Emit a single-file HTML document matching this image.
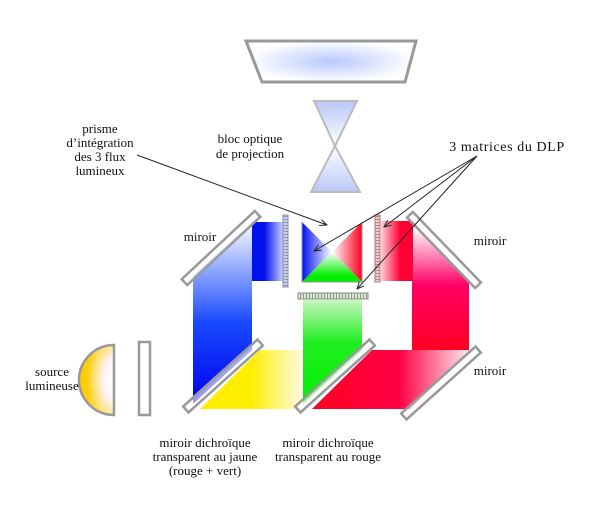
<!DOCTYPE html>
<html><head><meta charset="utf-8"><style>
html,body{margin:0;padding:0;background:#fff}
svg{display:block}
text{font-family:"Liberation Serif",serif;font-size:13px;fill:#111}
</style></head><body>
<svg width="600" height="514" viewBox="0 0 600 514" xmlns="http://www.w3.org/2000/svg">
<defs>
<radialGradient id="scr" cx="0.5" cy="0.5" r="0.5"><stop offset="0" stop-color="#b8c8ff"/><stop offset="1" stop-color="#fff"/></radialGradient>
<linearGradient id="hg1" x1="0" y1="0" x2="0" y2="1"><stop offset="0" stop-color="#b8c8f8"/><stop offset="1" stop-color="#fff"/></linearGradient>
<linearGradient id="hg2" x1="0" y1="1" x2="0" y2="0"><stop offset="0" stop-color="#b8c8f8"/><stop offset="1" stop-color="#fff"/></linearGradient>
<linearGradient id="blueV" x1="0" y1="0" x2="0" y2="1"><stop offset="0" stop-color="#fff"/><stop offset="0.55" stop-color="#1a4bff"/><stop offset="1" stop-color="#0000ee"/></linearGradient>
<linearGradient id="yel" x1="0" y1="0" x2="1" y2="0"><stop offset="0.5" stop-color="#ffee00"/><stop offset="1" stop-color="#fffbe0"/></linearGradient>
<linearGradient id="grn" x1="0" y1="0" x2="0" y2="1"><stop offset="0" stop-color="#c8f5c0"/><stop offset="0.4" stop-color="#22ee22"/><stop offset="1" stop-color="#00ee00"/></linearGradient>
<linearGradient id="redH" x1="0" y1="0" x2="1" y2="0"><stop offset="0" stop-color="#ff0022"/><stop offset="0.55" stop-color="#ff0044"/><stop offset="1" stop-color="#ffecef"/></linearGradient>
<linearGradient id="redV" x1="0" y1="0" x2="0" y2="1"><stop offset="0.05" stop-color="#fff"/><stop offset="0.5" stop-color="#ff0066"/><stop offset="1" stop-color="#ff0022"/></linearGradient>
<linearGradient id="blueT" x1="0" y1="0" x2="1" y2="0"><stop offset="0.4" stop-color="#0011ee"/><stop offset="1" stop-color="#c8d0ff"/></linearGradient>
<linearGradient id="redT" x1="1" y1="0" x2="0" y2="0"><stop offset="0.4" stop-color="#ff0033"/><stop offset="1" stop-color="#ffd0d8"/></linearGradient>
<linearGradient id="pb" x1="0" y1="0" x2="1" y2="0"><stop offset="0" stop-color="#0011ee"/><stop offset="1" stop-color="#fff"/></linearGradient>
<linearGradient id="pr" x1="1" y1="0" x2="0" y2="0"><stop offset="0" stop-color="#ff0022"/><stop offset="1" stop-color="#fff"/></linearGradient>
<linearGradient id="pg" x1="0" y1="1" x2="0" y2="0"><stop offset="0.2" stop-color="#00ee00"/><stop offset="1" stop-color="#fff"/></linearGradient>
<radialGradient id="src" cx="1" cy="0.5" r="1"><stop offset="0" stop-color="#fff"/><stop offset="0.3" stop-color="#fff4f8"/><stop offset="0.8" stop-color="#ffcc00"/></radialGradient>
<pattern id="mat" width="3" height="3" patternUnits="userSpaceOnUse"><rect width="3" height="3" fill="#c8d4e8"/><path d="M0 0.5H3" stroke="#7a88a0" stroke-width="0.8"/></pattern>
<pattern id="matr" width="3" height="3" patternUnits="userSpaceOnUse"><rect width="3" height="3" fill="#f5c8c8"/><path d="M0 0.5H3" stroke="#b07070" stroke-width="0.8"/></pattern>
<pattern id="matg" width="3" height="3" patternUnits="userSpaceOnUse"><rect width="3" height="3" fill="#d8e8d0"/><path d="M0.5 0V3" stroke="#7a8a70" stroke-width="0.8"/></pattern>
<marker id="ar" viewBox="0 0 10 10" refX="9" refY="5" markerWidth="8" markerHeight="8" orient="auto"><path d="M0 1L9 5L0 9" fill="none" stroke="#222" stroke-width="1.2"/></marker>
</defs>

<polygon points="246,41 416,41 405,82 262,82" fill="url(#scr)" stroke="#999" stroke-width="3"/>
<polygon points="314,101 357,101 335,146" fill="url(#hg1)" stroke="#bbb" stroke-width="2"/>
<polygon points="311,192 360,192 335,146" fill="url(#hg2)" stroke="#bbb" stroke-width="2"/>

<polygon points="193,276 252,221 252,350 193,404" fill="url(#blueV)"/>
<polygon points="200,409 260,350 302,350 302,409" fill="url(#yel)"/>
<polygon points="303,300 362,300 362,350 303,404" fill="url(#grn)"/>
<polygon points="312,409 372,350 470,350 410,409" fill="url(#redH)"/>
<polygon points="412,221 469,280 469,350 412,350" fill="url(#redV)"/>
<rect x="252" y="222" width="31" height="59" fill="url(#blueT)"/>
<rect x="381" y="221" width="32" height="60" fill="url(#redT)"/>

<polygon points="302,222 332,252 302,282" fill="url(#pb)"/>
<polygon points="362,222 332,252 362,282" fill="url(#pr)"/>
<polygon points="302,282 362,282 332,252" fill="url(#pg)"/>
<polyline points="302,222 302,282 362,282 362,222" fill="none" stroke="#999" stroke-width="1"/>

<rect x="283" y="215" width="5" height="72" fill="url(#mat)" stroke="#8890a0" stroke-width="1"/>
<rect x="375" y="215" width="5" height="67" fill="url(#matr)" stroke="#a08080" stroke-width="1"/>
<rect x="298" y="293" width="70" height="6" fill="url(#matg)" stroke="#889080" stroke-width="1"/>

<g fill="#fff" fill-opacity="0.6" stroke="#999" stroke-width="2.5">
<rect x="-50" y="-4" width="100" height="8" transform="translate(221,248) rotate(-43)"/>
<rect x="-50" y="-4" width="100" height="8" transform="translate(223,376) rotate(-42)"/>
<rect x="-50" y="-4" width="100" height="8" transform="translate(335,376) rotate(-42)"/>
<rect x="-49" y="-4" width="98" height="8" transform="translate(444,250) rotate(46)"/>
<rect x="-50" y="-4" width="100" height="8" transform="translate(441,383) rotate(-42)"/>
</g>

<path d="M114,345 A35,35 0 0 0 114,415 Z" fill="url(#src)" stroke="#999" stroke-width="2.5"/>
<rect x="139" y="342" width="11" height="73" fill="#fff" stroke="#999" stroke-width="2.5"/>

<g stroke="#222" stroke-width="1" fill="none">
<line x1="137" y1="155" x2="327" y2="225" marker-end="url(#ar)"/>
<line x1="477" y1="156" x2="314" y2="251" marker-end="url(#ar)"/>
<line x1="477" y1="156" x2="384" y2="227" marker-end="url(#ar)"/>
<line x1="477" y1="156" x2="357" y2="289" marker-end="url(#ar)"/>
</g>

<g text-anchor="middle">
<text x="100" y="133">prisme</text>
<text x="100" y="147">d’intégration</text>
<text x="100" y="161">des 3 flux</text>
<text x="100" y="175">lumineux</text>
<text x="250" y="143">bloc optique</text>
<text x="250" y="158">de projection</text>
<text x="507" y="151" style="font-size:14px;letter-spacing:0.6px">3 matrices du DLP</text>
<text x="200" y="241">miroir</text>
<text x="490" y="245">miroir</text>
<text x="490" y="375">miroir</text>
<text x="52" y="376">source</text>
<text x="52" y="390">lumineuse</text>
<text x="205" y="447">miroir dichroïque</text>
<text x="205" y="461">transparent au jaune</text>
<text x="205" y="475">(rouge + vert)</text>
<text x="328" y="447">miroir dichroïque</text>
<text x="328" y="461">transparent au rouge</text>
</g>
</svg>
</body></html>
